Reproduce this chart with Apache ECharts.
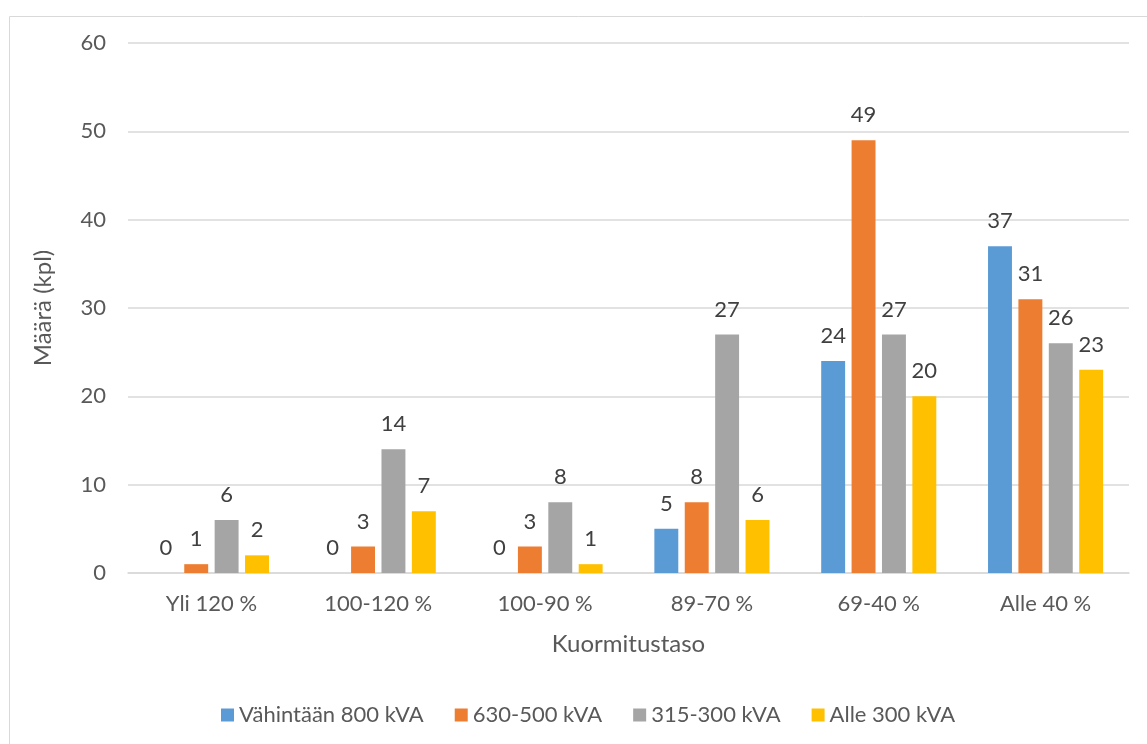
<!DOCTYPE html>
<html>
<head>
<meta charset="utf-8">
<script src="https://cdn.jsdelivr.net/npm/echarts@6/dist/echarts.min.js"></script>
<style>
html,body{margin:0;padding:0;background:#fff;}
#chart{width:1147px;height:744px;}
</style>
</head>
<body>
<div id="chart"></div>
<script>
const categories = ['Yli 120 %', '100-120 %', '100-90 %', '89-70 %', '69-40 %', 'Alle 40 %'];
const seriesNames = ['Vähintään 800 kVA', '630-500 kVA', '315-300 kVA', 'Alle 300 kVA'];
const v800 = [0, 0, 0, 5, 24, 37];
const v630 = [1, 3, 3, 8, 49, 31];
const v315 = [6, 14, 8, 27, 27, 26];
const vAlle = [2, 7, 1, 6, 20, 23];
const yTicks = [0, 10, 20, 30, 40, 50, 60];
const colors = ['#5B9BD5', '#ED7D31', '#A5A5A5', '#FFC000'];

const FONT = 'Lato, "Open Sans", sans-serif';
const allValues = [v800, v630, v315, vAlle];

const chart = echarts.init(document.getElementById('chart'), null, {renderer: 'canvas'});
chart.setOption({
  animation: false,
  backgroundColor: '#fff',
  textStyle: {fontFamily: FONT},
  graphic: [{
    type: 'rect', left: 7, top: 14, silent: true,
    shape: {width: 1145, height: 740},
    style: {fill: 'none', stroke: '#D9D9D9', lineWidth: 1}
  }],
  grid: {left: 128, right: 18, top: 43, bottom: 171, containLabel: false},
  legend: {
    bottom: 13, left: 216,
    itemWidth: 13, itemHeight: 13, itemGap: 31,
    icon: 'rect',
    textStyle: {fontFamily: FONT, fontSize: 22, color: '#595959'},
    data: seriesNames
  },
  xAxis: {
    type: 'category', data: categories,
    name: 'Kuormitustaso', nameLocation: 'middle', nameGap: 59,
    nameTextStyle: {fontFamily: FONT, fontSize: 24, color: '#595959'},
    axisLine: {lineStyle: {color: '#D9D9D9', width: 1.5}},
    axisTick: {show: false},
    axisLabel: {fontFamily: FONT, fontSize: 22, color: '#595959', margin: 20}
  },
  yAxis: {
    type: 'value', min: yTicks[0], max: yTicks[yTicks.length - 1], interval: 10,
    name: 'Määrä (kpl)', nameLocation: 'middle', nameGap: 73,
    nameTextStyle: {fontFamily: FONT, fontSize: 24, color: '#595959'},
    axisLine: {show: false}, axisTick: {show: false},
    splitLine: {lineStyle: {color: '#D9D9D9', width: 1.5}},
    axisLabel: {fontFamily: FONT, fontSize: 22, color: '#595959', margin: 22}
  },
  series: seriesNames.map((n, i) => ({
    name: n, type: 'bar', data: allValues[i],
    barGap: '27%', barCategoryGap: '31%',
    itemStyle: {color: colors[i]},
    label: {show: true, position: 'top', distance: 14, fontFamily: FONT, fontSize: 22, color: '#404040'}
  }))
});
</script>
</body>
</html>
